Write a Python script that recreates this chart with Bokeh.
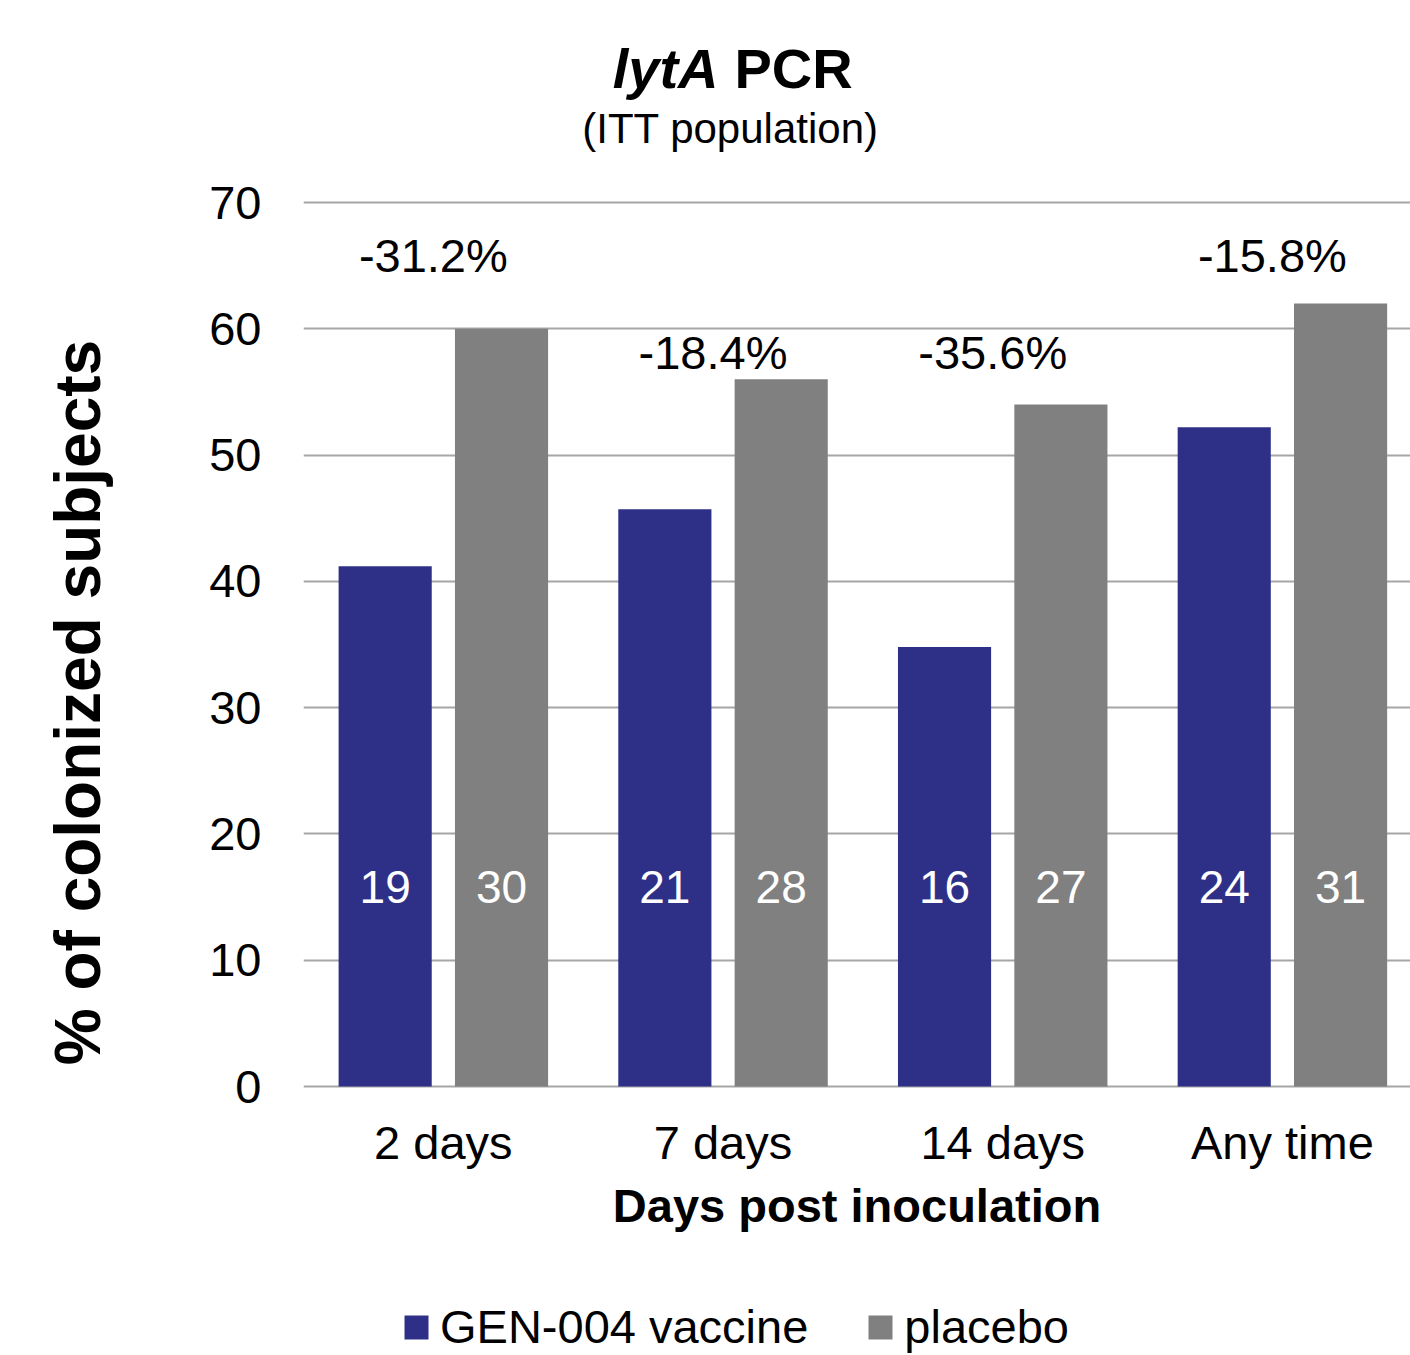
from bokeh.plotting import figure
from bokeh.layouts import column, row
from bokeh.models import (Range1d, FixedTicker, Legend, LegendItem,
                          ColumnDataSource)
from bokeh.transform import dodge
from bokeh.embed import file_html
from bokeh.resources import INLINE
from bokeh.core.properties import value
import numpy as np

# ---- data ----
categories = ["2 days", "7 days", "14 days", "Any time"]
vaccine_pct = [41.2, 45.7, 34.8, 52.2]
placebo_pct = [60.0, 56.0, 54.0, 62.0]
vaccine_n = [19, 21, 16, 24]
placebo_n = [30, 28, 27, 31]
reduction_labels = ["-31.2%", "-18.4%", "-35.6%", "-15.8%"]
reduction_label_y = [65.8, 58.1, 58.1, 65.8]
count_label_y = [15.8, 15.8, 15.8, 15.8]
y_ticks = [0, 10, 20, 30, 40, 50, 60, 70]
series_names = ["GEN-004 vaccine", "placebo"]
y_title = "% of colonized subjects"
x_title = "Days post inoculation"

VAC = "#2E3087"
PLA = "#808080"
FONT = "Liberation Sans"
W = 1410


def blank(width, height, xr, yr):
    f = figure(width=width, height=height, x_range=xr, y_range=yr,
               output_backend="svg", toolbar_location=None,
               x_axis_location=None, y_axis_location=None, min_border=0)
    f.outline_line_color = None
    f.grid.visible = False
    f.frame_align = False
    return f


# ---------------- title panel ----------------
TITLE_H = 160
tf = blank(W, TITLE_H, Range1d(0, W), Range1d(TITLE_H, 0))
tf.text(x=[718], y=[68], text=["lytA"], text_font=value(FONT), text_font_style="bold italic",
        text_font_size="56px", text_align="right", text_baseline="middle", text_color="black")
tf.text(x=[734], y=[68], text=["PCR"], text_font=value(FONT), text_font_style="bold",
        text_font_size="56px", text_align="left", text_baseline="middle", text_color="black")
tf.text(x=[730], y=[128], text=["(ITT population)"], text_font=value(FONT),
        text_font_size="42px", text_align="center", text_baseline="middle", text_color="black")

# ---------------- y-title panel ----------------
MAIN_H = 1100
YL_W = 150
yl = blank(YL_W, MAIN_H, Range1d(0, YL_W), Range1d(TITLE_H + MAIN_H, TITLE_H))
yl.text(x=[77], y=[702], text=[y_title], angle=np.pi / 2, text_font=value(FONT),
        text_font_style="bold", text_font_size="64px", text_align="center",
        text_baseline="middle", text_color="black")

# ---------------- main chart ----------------
LEFT = 303 - YL_W
TOP = 39
BOTTOM = 171
upp = 70 / 884.0
X_END = 3.958

xs = np.arange(len(categories)) + 0.5
src = ColumnDataSource(dict(
    x=xs, vac=vaccine_pct, pla=placebo_pct,
    vn=[str(v) for v in vaccine_n], pn=[str(v) for v in placebo_n],
    red=reduction_labels, ry=reduction_label_y, ny=count_label_y,
))

p = figure(width=W - YL_W, height=MAIN_H, x_range=Range1d(0, X_END),
           y_range=Range1d(-3 * upp, 70 + 3 * upp),
           output_backend="svg", toolbar_location=None,
           min_border_left=LEFT, min_border_right=0,
           min_border_top=TOP, min_border_bottom=BOTTOM)
p.outline_line_color = None

off = 0.208
bw = 0.333
r1 = p.vbar(x=dodge("x", -off), top="vac", width=bw, source=src,
            fill_color=VAC, line_color=None)
r2 = p.vbar(x=dodge("x", off), top="pla", width=bw, source=src,
            fill_color=PLA, line_color=None)

p.text(x=dodge("x", -off), y="ny", text="vn", source=src, text_color="white",
       text_align="center", text_baseline="middle",
       text_font=value(FONT), text_font_size="46px")
p.text(x=dodge("x", off), y="ny", text="pn", source=src, text_color="white",
       text_align="center", text_baseline="middle",
       text_font=value(FONT), text_font_size="46px")
p.text(x="x", y="ry", text="red", source=src, text_color="black", x_offset=-10,
       text_align="center", text_baseline="middle",
       text_font=value(FONT), text_font_size="47px")

p.xgrid.grid_line_color = None
p.ygrid.grid_line_color = "#A6A6A6"
p.ygrid.grid_line_width = 2
p.ygrid.ticker = FixedTicker(ticks=y_ticks)

ya = p.yaxis[0]
ya.ticker = FixedTicker(ticks=y_ticks)
ya.axis_line_color = None
ya.major_tick_line_color = None
ya.minor_tick_line_color = None
ya.major_label_standoff = 36
ya.major_label_text_font = FONT
ya.major_label_text_font_size = "47px"
ya.major_label_text_color = "black"

xa = p.xaxis[0]
xa.ticker = FixedTicker(ticks=list(xs))
xa.major_label_overrides = {float(v): c for v, c in zip(xs, categories)}
xa.axis_line_color = None
xa.major_tick_line_color = None
xa.minor_tick_line_color = None
xa.major_label_standoff = 20
xa.major_label_text_font = FONT
xa.major_label_text_font_size = "47px"
xa.major_label_text_color = "black"
xa.axis_label = x_title
xa.axis_label_text_font = FONT
xa.axis_label_text_font_style = "bold"
xa.axis_label_text_font_size = "47px"
xa.axis_label_text_color = "black"
xa.axis_label_standoff = 7

# ---------------- legend panel ----------------
LEG_H = 1355 - TITLE_H - MAIN_H
lf = blank(W, LEG_H, Range1d(0, W), Range1d(0, LEG_H))
dummy = ColumnDataSource(dict(x=np.array([np.nan]), top=np.array([np.nan])))
l1 = lf.vbar(x="x", top="top", width=1, source=dummy, fill_color=VAC, line_color=None)
l2 = lf.vbar(x="x", top="top", width=1, source=dummy, fill_color=PLA, line_color=None)
legend = Legend(items=[LegendItem(label=series_names[0], renderers=[l1]),
                       LegendItem(label=series_names[1], renderers=[l2])],
                orientation="horizontal", location=(401, 1),
                glyph_width=30, glyph_height=30, label_standoff=9, spacing=57,
                padding=0, margin=0, border_line_color=None,
                background_fill_alpha=0, label_text_font=FONT,
                label_text_font_size="47px", label_text_color="black")
lf.add_layout(legend)

layout = column(tf, row(yl, p, spacing=0), lf, spacing=0)
open("out.html", "w").write(file_html(layout, INLINE))
